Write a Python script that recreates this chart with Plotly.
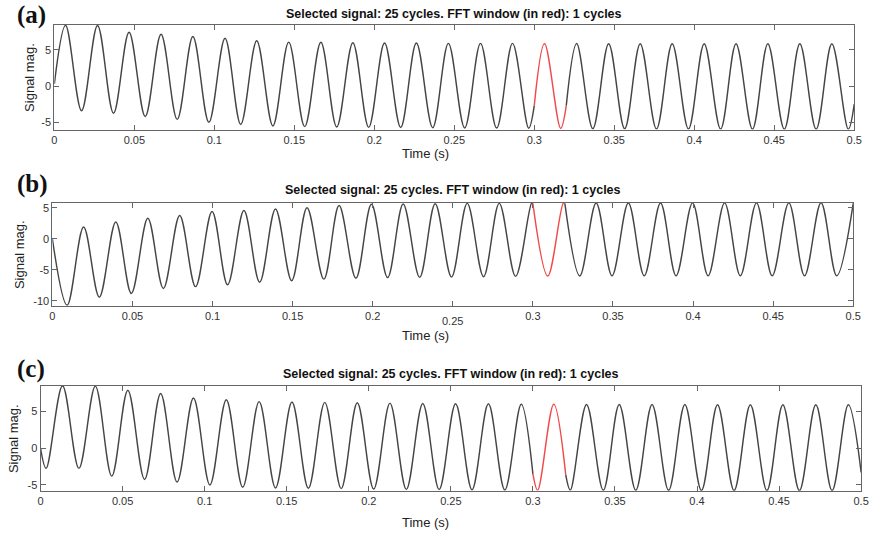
import plotly.graph_objects as go

# ---------------- data ----------------
# Panel (a): extrema (and window boundary) points of the signal
times_a = [0.0, 0.0070, 0.0170, 0.0270, 0.0370, 0.0467, 0.0568, 0.0667, 0.0768, 0.0866,
           0.0966, 0.1067, 0.1165, 0.1265, 0.1366, 0.1465, 0.1565, 0.1666, 0.1765, 0.1866,
           0.1965, 0.2064, 0.2165, 0.2263, 0.2365, 0.2463, 0.2565, 0.2664, 0.2765, 0.2864,
           0.2965, 0.3000, 0.3064, 0.3165, 0.3200, 0.3265, 0.3366, 0.3465, 0.3565, 0.3662,
           0.3764, 0.3862, 0.3964, 0.4062, 0.4165, 0.4261, 0.4364, 0.4460, 0.4563, 0.4660,
           0.4762, 0.4860, 0.4963, 0.5000]
values_a = [0.3, 8.40, -3.40, 8.38, -3.75, 7.45, -4.20, 7.15, -4.60, 6.85,
            -5.00, 6.60, -5.30, 6.25, -5.50, 6.07, -5.60, 6.05, -5.65, 6.00,
            -5.70, 5.95, -5.72, 5.95, -5.75, 5.90, -5.78, 5.90, -5.80, 5.90,
            -5.82, -2.70, 5.88, -5.85, -2.70, 5.87, -5.88, 5.86, -5.90, 5.86,
            -5.92, 5.85, -5.93, 5.85, -5.94, 5.85, -5.95, 5.85, -5.95, 5.85,
            -5.96, 5.85, -5.96, -2.50]

# Panel (b)
times_b = [0.0, 0.0092, 0.0195, 0.0293, 0.0396, 0.0493, 0.0596, 0.0693, 0.0795, 0.0894,
           0.0997, 0.1094, 0.1196, 0.1294, 0.1393, 0.1494, 0.1590, 0.1695, 0.1790, 0.1895,
           0.1992, 0.2093, 0.2190, 0.2293, 0.2390, 0.2492, 0.2590, 0.2692, 0.2790, 0.2892,
           0.2992, 0.3000, 0.3093, 0.3190, 0.3200, 0.3293, 0.3395, 0.3494, 0.3596, 0.3695,
           0.3797, 0.3894, 0.3997, 0.4094, 0.4197, 0.4295, 0.4396, 0.4494, 0.4598, 0.4696,
           0.4799, 0.4897, 0.5000]
values_b = [0.0, -10.70, 1.90, -9.40, 2.70, -8.80, 3.30, -8.00, 3.75, -7.70,
            4.40, -7.40, 4.55, -7.00, 4.80, -6.75, 5.00, -6.50, 5.35, -6.35,
            5.55, -6.25, 5.60, -6.20, 5.65, -6.15, 5.70, -6.10, 5.70, -6.05,
            5.72, 5.66, -6.00, 5.72, 5.66, -5.98, 5.75, -5.95, 5.75, -5.95,
            5.75, -5.95, 5.78, -5.95, 5.78, -5.95, 5.78, -5.95, 5.78, -5.95,
            5.80, -5.95, 5.70]

# Panel (c)
times_c = [0.0, 0.0034, 0.0134, 0.0234, 0.0334, 0.0434, 0.0532, 0.0634, 0.0732, 0.0832,
           0.0932, 0.1032, 0.1132, 0.1232, 0.1332, 0.1432, 0.1532, 0.1632, 0.1732, 0.1832,
           0.1930, 0.2030, 0.2129, 0.2229, 0.2329, 0.2429, 0.2529, 0.2629, 0.2729, 0.2829,
           0.2929, 0.3000, 0.3029, 0.3127, 0.3200, 0.3228, 0.3327, 0.3429, 0.3526, 0.3627,
           0.3726, 0.3827, 0.3926, 0.4027, 0.4125, 0.4226, 0.4325, 0.4426, 0.4523, 0.4624,
           0.4724, 0.4823, 0.4922, 0.5000]
values_c = [0.0, -2.75, 8.45, -2.75, 8.40, -3.80, 7.85, -4.25, 7.40, -4.60,
            6.80, -5.00, 6.55, -5.30, 6.30, -5.40, 6.25, -5.45, 6.20, -5.50,
            6.15, -5.55, 6.10, -5.60, 6.05, -5.62, 6.00, -5.65, 6.00, -5.68,
            5.95, -3.50, -5.70, 5.95, -3.60, -5.70, 5.92, -5.72, 5.90, -5.72,
            5.90, -5.73, 5.90, -5.74, 5.88, -5.75, 5.88, -5.75, 5.88, -5.76,
            5.87, -5.77, 5.87, -3.30]

window_start = 0.30   # FFT window (in red)
window_end = 0.32

x_tick_vals = [0, 0.05, 0.1, 0.15, 0.2, 0.25, 0.3, 0.35, 0.4, 0.45, 0.5]
x_tick_text = ["0", "0.05", "0.1", "0.15", "0.2", "0.25", "0.3", "0.35", "0.4", "0.45", "0.5"]

y_ticks_a = [-5, 0, 5]
y_ticks_b = [-10, -5, 0, 5]
y_ticks_c = [-5, 0, 5]
y_range_a = [-6.0, 8.45]
y_range_b = [-10.8, 5.8]
y_range_c = [-5.8, 8.48]

title_text = "Selected signal: 25 cycles. FFT window (in red): 1 cycles"
panel_labels = ["(a)", "(b)", "(c)"]

# ---------------- figure ----------------
W, H = 880, 536
BLACK = "#454545"
RED = "#f04a4a"
FRAME = "#666666"
FONT = "Liberation Sans, Arial, sans-serif"

panels = [
    # times, values, yticks, yrange, x-domain px, y-domain px (top, bottom)
    (times_a, values_a, y_ticks_a, y_range_a, (52, 862), (24, 129)),
    (times_b, values_b, y_ticks_b, y_range_b, (50, 861), (202.5, 306)),
    (times_c, values_c, y_ticks_c, y_range_c, (38, 869), (386, 491.7)),
]

fig = go.Figure()

def split(ts, vs):
    pre = [(t, v) for t, v in zip(ts, vs) if t <= window_start]
    win = [(t, v) for t, v in zip(ts, vs) if window_start <= t <= window_end]
    post = [(t, v) for t, v in zip(ts, vs) if t >= window_end]
    return pre, win, post

for i, (ts, vs, yt, yr, (xl, xr), (yt_px, yb_px)) in enumerate(panels):
    n = "" if i == 0 else str(i + 1)
    xa, ya = "x" + n, "y" + n
    pre, win, post = split(ts, vs)
    for seg, col in ((pre, BLACK), (post, BLACK), (win, RED)):
        fig.add_trace(go.Scatter(
            x=[p[0] for p in seg], y=[p[1] for p in seg], mode="lines",
            line=dict(color=col, width=1.45, shape="spline", smoothing=1.0),
            xaxis=xa, yaxis=ya, showlegend=False, hoverinfo="skip"))

    xtext = list(x_tick_text)
    if i == 1:
        xtext[5] = ""  # the 0.25 label sits lower in panel (b)
    axcommon = dict(showline=True, mirror="ticks", linecolor=FRAME, linewidth=1,
                    ticks="inside", ticklen=5, tickcolor=FRAME, tickwidth=1,
                    showgrid=False, zeroline=False,
                    tickfont=dict(family=FONT, size=11, color="#333"))
    fig.layout["xaxis" + n] = dict(
        domain=[xl / W, xr / W], range=[0, 0.5], anchor=ya,
        tickvals=x_tick_vals, ticktext=xtext, **axcommon)
    fig.layout["yaxis" + n] = dict(
        domain=[1 - yb_px / H, 1 - yt_px / H], range=yr, anchor=xa,
        tickvals=yt, ticktext=[str(v) for v in yt], **axcommon)

    cx = (xl + xr) / 2
    # panel title
    fig.add_annotation(x=cx / W, y=1 - ([13, 190, 374][i]) / H, xref="paper", yref="paper",
                       text="<b>" + title_text + "</b>", showarrow=False,
                       font=dict(family=FONT, size=12.5, color="#111"),
                       xanchor="center", yanchor="middle")
    # panel label
    fig.add_annotation(x=12 / W, y=1 - [14, 184, 369][i] / H, xref="paper", yref="paper",
                       text="<b>" + panel_labels[i] + "</b>", showarrow=False,
                       font=dict(family="Liberation Serif, Times New Roman, serif", size=25, color="#111"),
                       xanchor="left", yanchor="middle")
    # x label
    fig.add_annotation(x=428 / W, y=1 - [153, 336, 523][i] / H, xref="paper", yref="paper",
                       text="Time (s)", showarrow=False,
                       font=dict(family=FONT, size=13, color="#222"),
                       xanchor="center", yanchor="middle")
    # y label
    fig.add_annotation(x=[27, 17, 10][i] / W, y=1 - ((yt_px + yb_px) / 2) / H,
                       xref="paper", yref="paper", text="Signal mag.", textangle=-90,
                       showarrow=False, font=dict(family=FONT, size=13, color="#222"),
                       xanchor="center", yanchor="middle")

# the lowered 0.25 tick label of panel (b)
fig.add_annotation(x=0.25, y=1 - 321.5 / H, xref="x2", yref="paper", text="0.25",
                   showarrow=False, font=dict(family=FONT, size=11, color="#333"),
                   xanchor="center", yanchor="middle")

fig.update_layout(width=W, height=H, margin=dict(l=0, r=0, t=0, b=0),
                  paper_bgcolor="white", plot_bgcolor="white", showlegend=False)

fig.write_html("out.html")
